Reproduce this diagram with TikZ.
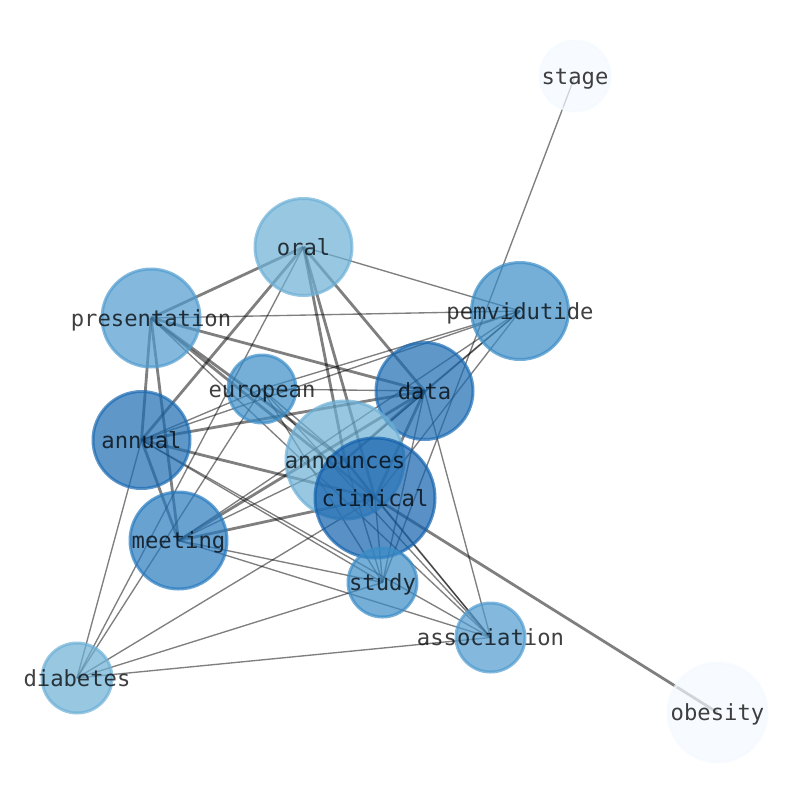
\documentclass[tikz,border=0pt]{standalone}
\usepackage{fontspec}
\setmonofont{DejaVu Sans Mono}
\usetikzlibrary{positioning}
\usepackage{xcolor}

\definecolor{pale}{RGB}{244,249,255}
\definecolor{light}{RGB}{108,175,213}
\definecolor{lightmid}{RGB}{80,155,207}
\definecolor{mid}{RGB}{58,140,198}
\definecolor{midark}{RGB}{40,122,190}
\definecolor{dark}{RGB}{27,107,178}
\definecolor{darkest}{RGB}{19,97,172}

\begin{document}
\begin{tikzpicture}[x=1pt, y=-1pt,
    bubble/.style={circle, inner sep=0pt, line width=3pt,
      fill opacity=0.7, draw opacity=0.7},
    word/.style={inner sep=0pt, text=black, text opacity=0.75,
      font=\ttfamily\fontsize{22.2}{26}\selectfont,
      text height=0.93em, text depth=0pt, yshift=-3.5pt},
    link/.style={draw=black, draw opacity=0.5, line width=1.35pt},
    heavy/.style={link, line width=2.8pt}]

    \useasboundingbox (0,0) rectangle (794,790);

    % Centres
    \coordinate (stage) at (575,76);
    \coordinate (oral) at (303.5,247);
    \coordinate (pemvidutide) at (520,311);
    \coordinate (presentation) at (151,318);
    \coordinate (european) at (262,389);
    \coordinate (data) at (424.5,391);
    \coordinate (annual) at (141.5,440);
    \coordinate (announces) at (345,460);
    \coordinate (clinical) at (375,498);
    \coordinate (meeting) at (178.5,540.5);
    \coordinate (study) at (382.5,582.5);
    \coordinate (association) at (490.5,637.5);
    \coordinate (diabetes) at (77,678);
    \coordinate (obesity) at (717.5,712.5);

    % Links (weight 1)
    \draw[link] (oral) -- (pemvidutide);
    \draw[link] (presentation) -- (pemvidutide);
    \draw[link] (presentation) -- (association);
    \draw[link] (european) -- (data);
    \draw[link] (european) -- (pemvidutide);
    \draw[link] (european) -- (annual);
    \draw[link] (european) -- (study);
    \draw[link] (european) -- (association);
    \draw[link] (european) -- (announces);
    \draw[link] (european) -- (diabetes);
    \draw[link] (annual) -- (pemvidutide);
    \draw[link] (annual) -- (study);
    \draw[link] (annual) -- (association);
    \draw[link] (annual) -- (diabetes);
    \draw[link] (pemvidutide) -- (meeting);
    \draw[link] (pemvidutide) -- (data);
    \draw[link] (pemvidutide) -- (announces);
    \draw[link] (pemvidutide) -- (clinical);
    \draw[link] (data) -- (study);
    \draw[link] (data) -- (association);
    \draw[link] (meeting) -- (study);
    \draw[link] (meeting) -- (association);
    \draw[link] (meeting) -- (announces);
    \draw[link] (clinical) -- (study);
    \draw[link] (clinical) -- (association);
    \draw[link] (clinical) -- (diabetes);
    \draw[link] (announces) -- (study);
    \draw[link] (announces) -- (association);
    \draw[link] (study) -- (stage);
    \draw[link] (study) -- (diabetes);
    \draw[link] (association) -- (diabetes);
    \draw[link] (diabetes) -- (oral);

    % Links (weight 2)
    \draw[heavy] (oral) -- (presentation);
    \draw[heavy] (oral) -- (annual);
    \draw[heavy] (oral) -- (data);
    \draw[heavy] (oral) -- (announces);
    \draw[heavy] (oral) -- (clinical);
    \draw[heavy] (presentation) -- (annual);
    \draw[heavy] (presentation) -- (meeting);
    \draw[heavy] (presentation) -- (data);
    \draw[heavy] (presentation) -- (announces);
    \draw[heavy] (presentation) -- (clinical);
    \draw[heavy] (annual) -- (meeting);
    \draw[heavy] (annual) -- (data);
    \draw[heavy] (annual) -- (clinical);
    \draw[heavy] (meeting) -- (data);
    \draw[heavy] (meeting) -- (clinical);
    \draw[heavy] (data) -- (announces);
    \draw[heavy] (data) -- (clinical);
    \draw[heavy] (announces) -- (clinical);
    \draw[heavy] (clinical) -- (obesity);

    % Bubbles
    \node[bubble, minimum size=70pt, fill=pale, draw=pale] (stage-b) at (stage) {};
    \node[bubble, minimum size=97pt, fill=light, draw=light] (oral-b) at (oral) {};
    \node[bubble, minimum size=97pt, fill=mid, draw=mid] (pemvidutide-b) at (pemvidutide) {};
    \node[bubble, minimum size=98pt, fill=lightmid, draw=lightmid] (presentation-b) at (presentation) {};
    \node[bubble, minimum size=68pt, fill=mid, draw=mid] (european-b) at (european) {};
    \node[bubble, minimum size=97pt, fill=dark, draw=dark] (data-b) at (data) {};
    \node[bubble, minimum size=97pt, fill=dark, draw=dark] (annual-b) at (annual) {};
    \node[bubble, minimum size=118pt, fill=light, draw=light] (announces-b) at (announces) {};
    \node[bubble, minimum size=120pt, fill=darkest, draw=darkest] (clinical-b) at (clinical) {};
    \node[bubble, minimum size=97pt, fill=midark, draw=midark] (meeting-b) at (meeting) {};
    \node[bubble, minimum size=69pt, fill=mid, draw=mid] (study-b) at (study) {};
    \node[bubble, minimum size=69pt, fill=lightmid, draw=lightmid] (association-b) at (association) {};
    \node[bubble, minimum size=70pt, fill=light, draw=light] (diabetes-b) at (diabetes) {};
    \node[bubble, minimum size=99pt, fill=pale, draw=pale] (obesity-b) at (obesity) {};

    % Labels
    \node[word] (stage-t) at (stage) {stage};
    \node[word] (oral-t) at (oral) {oral};
    \node[word] (pemvidutide-t) at (pemvidutide) {pemvidutide};
    \node[word] (presentation-t) at (presentation) {presentation};
    \node[word] (european-t) at (european) {european};
    \node[word] (data-t) at (data) {data};
    \node[word] (annual-t) at (annual) {annual};
    \node[word] (announces-t) at (announces) {announces};
    \node[word] (clinical-t) at (clinical) {clinical};
    \node[word] (meeting-t) at (meeting) {meeting};
    \node[word] (study-t) at (study) {study};
    \node[word] (association-t) at (association) {association};
    \node[word] (diabetes-t) at (diabetes) {diabetes};
    \node[word] (obesity-t) at (obesity) {obesity};
  \end{tikzpicture}
\end{document}
